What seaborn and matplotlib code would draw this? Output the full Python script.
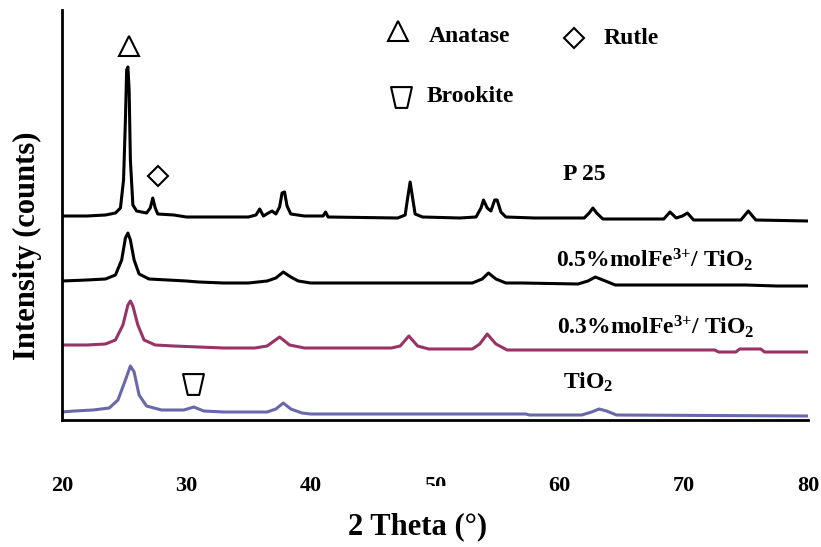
import numpy as np
import pandas as pd
import matplotlib
matplotlib.use("Agg")
import matplotlib.pyplot as plt
from matplotlib.path import Path
from matplotlib.transforms import Bbox
import seaborn as sns

# XRD patterns, stacked (2 theta, intensity in arbitrary counts incl. offset)
p25_theta = [20, 22, 23.5, 24.3, 24.7, 24.95, 25.1, 25.2, 25.3, 25.4, 25.5, 25.7, 26.0, 26.8,
             27.1, 27.3, 27.5, 27.7, 29.0, 30.0, 35.0, 35.6, 35.9, 36.2, 36.6, 36.9, 37.2, 37.5,
             37.7, 37.9, 38.1, 38.4, 39.5, 41.0, 41.2, 41.4, 47.0, 47.6, 47.8, 48.0, 48.2, 48.4,
             49.0, 52.0, 53.3, 53.7, 53.9, 54.2, 54.5, 54.8, 55.0, 55.3, 55.7, 58.0, 62.0, 62.4,
             62.7, 63.0, 63.5, 68.4, 68.9, 69.4, 69.9, 70.3, 70.8, 74.6, 75.2, 75.8, 80]
p25_int = [204, 204, 205, 207, 212, 240, 300, 350, 353, 330, 260, 215, 209, 207,
           212, 222, 212, 206, 205, 203, 203, 205, 211, 204, 207, 209, 206, 213,
           227, 228, 214, 206, 204, 204, 208, 203, 202, 205, 222, 238, 222, 206,
           203, 202, 203, 212, 220, 212, 209, 220, 220, 208, 203, 202, 202, 207,
           212, 207, 201, 201, 208, 202, 204, 207, 200, 200, 209, 200, 199]

fe05_theta = [20, 22, 23.5, 24.3, 24.8, 25.1, 25.3, 25.5, 25.8, 26.2, 27, 30, 31, 33, 35, 36.5,
              37.2, 37.8, 38.4, 39, 40, 45, 50, 53, 53.8, 54.3, 54.9, 55.7, 57, 61.5, 62.3,
              62.9, 63.5, 64.5, 75, 77.5, 80]
fe05_int = [139, 140, 141, 145, 160, 182, 187, 180, 160, 146, 141, 139, 138, 137, 137, 139,
            142, 148, 143, 139, 137, 137, 137, 137, 141, 147, 141, 137, 137, 136, 139,
            143, 140, 135, 135, 134, 134]

fe03_theta = [20, 22, 23.5, 24.3, 24.9, 25.3, 25.5, 25.7, 26.1, 26.6, 27.5, 29, 31, 33, 35.5,
              36.5, 37.5, 38.3, 39.5, 46.5, 47.2, 47.9, 48.6, 49.5, 53, 53.6, 54.2, 54.9, 55.8,
              60, 72.5, 72.8, 74.2, 74.5, 76.2, 76.5, 80]
fe03_int = [75, 75, 76, 80, 95, 115, 119, 114, 95, 80, 75, 74, 73, 72, 72,
            74, 83, 75, 72, 72, 74, 84, 74, 71, 71, 76, 86, 76, 70,
            70, 70, 68, 68, 71, 71, 68, 68]

tio2_theta = [20, 21, 22.5, 23.8, 24.5, 25.1, 25.5, 25.8, 26.2, 26.8, 28, 29.8, 30.6, 31.4, 33,
              36.5, 37.2, 37.8, 38.4, 39.3, 40, 57.3, 57.6, 61.8, 62.6, 63.2, 63.8, 64.6, 80]
tio2_int = [8, 9, 10, 12, 20, 40, 54, 48, 25, 14, 10, 10, 13, 9, 8,
            8, 11, 17, 11, 7, 6, 6, 5, 5, 8, 11, 9, 5, 4]

series_names = ["P 25", "0.5%molFe3+/ TiO2", "0.3%molFe3+/ TiO2", "TiO2"]
series_colors = ["black", "black", "#993366", "#6868aa"]
x_ticks = [20, 30, 40, 50, 60, 70, 80]

frames = []
for name, th, it in zip(series_names,
                        [p25_theta, fe05_theta, fe03_theta, tio2_theta],
                        [p25_int, fe05_int, fe03_int, tio2_int]):
    frames.append(pd.DataFrame({"theta": th, "intensity": it, "sample": name}))
df = pd.concat(frames, ignore_index=True)

sns.set_style("white")
plt.rcParams["font.family"] = ["Liberation Serif", "DejaVu Serif"]
plt.rcParams["font.weight"] = "bold"
plt.rcParams["text.color"] = "black"
plt.rcParams["axes.labelcolor"] = "black"
plt.rcParams["xtick.color"] = "black"
plt.rcParams["mathtext.fontset"] = "custom"
plt.rcParams["mathtext.rm"] = "Liberation Serif:bold"
plt.rcParams["mathtext.it"] = "Liberation Serif:bold"
plt.rcParams["mathtext.bf"] = "Liberation Serif:bold"
plt.rcParams["mathtext.default"] = "rm"

fig = plt.figure(figsize=(8.21, 5.47), dpi=100)
ax = fig.add_axes([62 / 821, 1 - 420 / 547, 746 / 821, 410 / 547])

sns.lineplot(data=df, x="theta", y="intensity", hue="sample", palette=series_colors,
             hue_order=series_names, sort=False, estimator=None, lw=2.2, legend=False, ax=ax)

ax.set_xlim(20, 80)
ax.set_ylim(0, 410)
ax.set_xticks(x_ticks)
ax.set_xticklabels([str(t) for t in x_ticks])
ax.set_yticks([])
for s in ["top", "right"]:
    ax.spines[s].set_visible(False)
for s in ["left", "bottom"]:
    ax.spines[s].set_linewidth(2)
    ax.spines[s].set_color("black")
ax.tick_params(axis="x", direction="out", length=9, width=2, pad=31, labelsize=16)
for lab in ax.get_xticklabels():
    lab.set_fontweight("bold")
    if lab.get_text() == "50":
        # the original has the lower half of "50" hidden
        lab.set_clip_box(Bbox([[0, 547 - 486], [821, 547]]))
        lab.set_clip_on(True)

ax.set_xlabel("2 Theta (°)", fontsize=22, fontweight="bold")
ax.set_ylabel("Intensity (counts)", fontsize=22, fontweight="bold")
ax.xaxis.set_label_coords(0.476, -0.225)
ax.yaxis.set_label_coords(-0.027, 0.424)

# phase markers
trap = Path([(-1, 1), (1, 1), (0.55, -1), (-0.55, -1), (-1, 1)],
            [Path.MOVETO, Path.LINETO, Path.LINETO, Path.LINETO, Path.CLOSEPOLY])
mk = dict(mfc="white", mec="black", mew=1.5, ls="none", clip_on=False)
ax.plot([25.39, 47.03], [374, 389], marker="^", ms=15, **mk)
ax.plot([27.72, 61.2], [244, 382.5], marker="D", ms=10, **mk)
ax.plot([30.54, 47.27], [36, 323], marker=trap, ms=15, **mk)

tk = dict(fontsize=17, fontweight="bold", va="center", ha="left")
ax.text(49.5, 383, "Anatase", **tk)
ax.text(63.6, 382, "Rutle", **tk)
ax.text(49.3, 324, "Brookite", **tk)
ax.text(60.3, 245, "P 25", **tk)
ax.text(59.7, 160, r"0.5%molFe$^{3{+}}$/ TiO$_{2}$", **tk)
ax.text(59.8, 93, r"0.3%molFe$^{3{+}}$/ TiO$_{2}$", **tk)
ax.text(60.3, 38, r"TiO$_{2}$", **tk)

fig.savefig("out.png", dpi=100)
